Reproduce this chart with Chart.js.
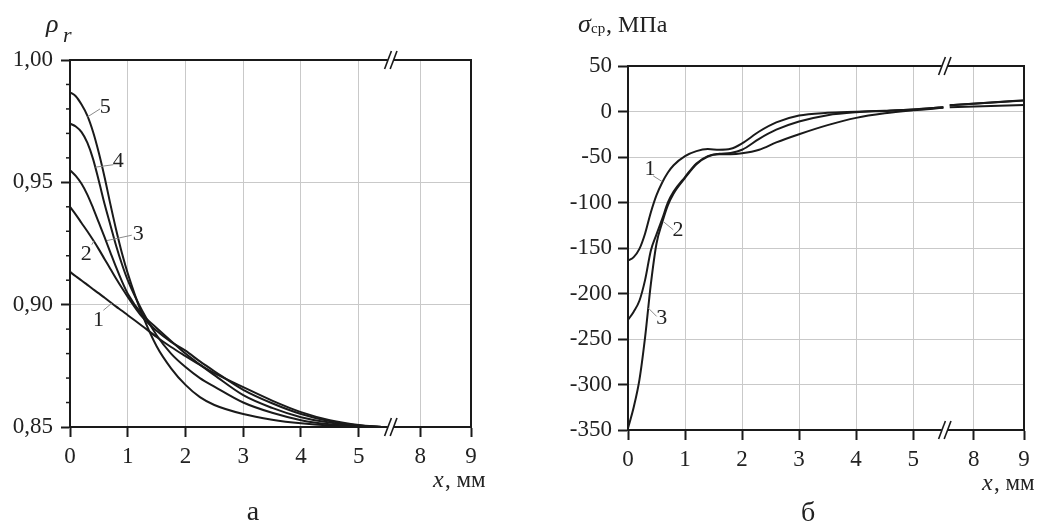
<!DOCTYPE html>
<html><head><meta charset="utf-8">
<script src="https://cdn.jsdelivr.net/npm/chart.js@4/dist/chart.umd.min.js"></script>
<style>
html,body{margin:0;padding:0;background:#fff;}
#wrap{position:relative;width:1050px;height:525px;background:#fff;}
.box{position:absolute;top:0;width:525px;height:525px;}
</style></head><body>
<div id="wrap">
<div class="box" style="left:0"><canvas id="cA" width="525" height="525"></canvas></div>
<div class="box" style="left:525px"><canvas id="cB" width="525" height="525"></canvas></div>
</div>
<script>
// ---------- data ----------
const xTickValues = [0, 1, 2, 3, 4, 5, 8, 9];
const xTickLabels = ['0', '1', '2', '3', '4', '5', '8', '9'];
const rhoTicks = [0.85, 0.90, 0.95, 1.00];
const rhoTickLabels = ['0,85', '0,90', '0,95', '1,00'];
const rhoMinorTicks = [0.86, 0.87, 0.88, 0.89, 0.91, 0.92, 0.93, 0.94, 0.96, 0.97, 0.98, 0.99];
const sigmaTicks = [-350, -300, -250, -200, -150, -100, -50, 0, 50];
const sigmaTickLabels = ['-350', '-300', '-250', '-200', '-150', '-100', '-50', '0', '50'];

const xRho = [0, 0.1, 0.2, 0.3, 0.4, 0.5, 0.6, 0.7, 0.8, 0.9, 1.0, 1.25, 1.5, 1.75, 2.0, 2.25, 2.5, 3.0, 3.5, 4.0, 4.5, 5.0, 5.4];
const rho1 = [0.9134, 0.9116, 0.9099, 0.9081, 0.9063, 0.9046, 0.9028, 0.9010, 0.8992, 0.8975, 0.8957, 0.8913, 0.8868, 0.8827, 0.8790, 0.8754, 0.8720, 0.8663, 0.8608, 0.8561, 0.8528, 0.8508, 0.8500];
const rho2 = [0.9400, 0.9368, 0.9334, 0.9300, 0.9264, 0.9226, 0.9186, 0.9146, 0.9106, 0.9068, 0.9032, 0.8950, 0.8893, 0.8848, 0.8812, 0.8768, 0.8728, 0.8652, 0.8597, 0.8553, 0.8524, 0.8506, 0.8500];
const rho3 = [0.9550, 0.9526, 0.9494, 0.9450, 0.9395, 0.9335, 0.9275, 0.9213, 0.9152, 0.9095, 0.9045, 0.8960, 0.8905, 0.8852, 0.8800, 0.8755, 0.8712, 0.8630, 0.8578, 0.8540, 0.8518, 0.8505, 0.8500];
const rho4 = [0.9740, 0.9728, 0.9705, 0.9662, 0.9595, 0.9505, 0.9410, 0.9325, 0.9240, 0.9165, 0.9100, 0.8975, 0.8875, 0.8800, 0.8745, 0.8700, 0.8665, 0.8600, 0.8558, 0.8528, 0.8511, 0.8503, 0.8500];
const rho5 = [0.9868, 0.9852, 0.9818, 0.9773, 0.9706, 0.9620, 0.9520, 0.9410, 0.9305, 0.9210, 0.9128, 0.8960, 0.8830, 0.8740, 0.8672, 0.8622, 0.8590, 0.8553, 0.8530, 0.8515, 0.8506, 0.8502, 0.8500];

const xSigma = [0, 0.1, 0.2, 0.3, 0.4, 0.5, 0.6, 0.7, 0.8, 1.0, 1.2, 1.4, 1.6, 1.8, 2.0, 2.3, 2.6, 3.0, 3.5, 4.0, 4.5, 5.0, 5.53];
const sigma1 = [-164, -160, -151, -134, -111, -92, -78, -67, -59, -49, -43.5, -41.3, -42, -41, -35, -22, -12, -4.5, -1.5, -0.3, 0.8, 2.2, 4.8];
const sigma2 = [-229, -220, -208, -185, -153, -135, -118, -100, -88, -72, -57, -49, -46.5, -45.5, -42, -30, -20, -11, -4, -0.8, 0.6, 2.2, 4.6];
const sigma3 = [-348, -325, -295, -248, -190, -145, -122, -103, -90, -73, -58, -49.5, -47, -47, -46, -42, -34, -25, -15, -7, -2, 1.3, 4.0];
const xSigmaTail = [7.52, 9];
const sigma1Tail = [7.0, 12.5];
const sigma2Tail = [6.8, 12.2];
const sigma3Tail = [4.6, 7.2];

// ---------- broken x axis ----------
const BREAK_AT = 5.555;
function brk(x) { return x <= BREAK_AT ? x : 6.064 + (x - 8) * 0.88; }

const FONT = '"Liberation Serif", "Times New Roman", serif';
const INK = '#1a1a1a';
const GRID = '#c9c9c9';

function pts(xs, ys) { return xs.map((x, i) => ({ x: brk(x), y: ys[i] })); }
function withTail(xs, ys, xt, yt) { return pts(xs, ys).concat([{ x: (brk(xs[xs.length - 1]) + brk(xt[0])) / 2, y: null }], pts(xt, yt)); }
function ds(data) { return { data, borderColor: INK, borderWidth: 2, pointRadius: 0, fill: false, cubicInterpolationMode: 'monotone', spanGaps: false }; }

const decor = {
  id: 'decor',
  afterDraw(chart, args, o) {
    const ctx = chart.ctx, a = chart.chartArea, xs = chart.scales.x, ys = chart.scales.y;
    ctx.save();
    (o.minor || []).forEach(v => {
      const y = ys.getPixelForValue(v);
      ctx.strokeStyle = INK; ctx.lineWidth = 1.5;
      ctx.beginPath(); ctx.moveTo(a.left - 4, y); ctx.lineTo(a.left, y); ctx.stroke();
    });
    ctx.strokeStyle = INK; ctx.lineWidth = 2;
    ctx.strokeRect(a.left, a.top, a.right - a.left, a.bottom - a.top);
    const bx = xs.getPixelForValue(BREAK_AT);
    [a.top, a.bottom].forEach(y => {
      ctx.fillStyle = '#fff'; ctx.fillRect(bx - 3, y - 2, 6, 4);
      ctx.strokeStyle = INK; ctx.lineWidth = 1.6;
      [-2.8, 2.8].forEach(dx => {
        ctx.beginPath(); ctx.moveTo(bx + dx - 3.4, y + 9); ctx.lineTo(bx + dx + 3.4, y - 9); ctx.stroke();
      });
    });
    (o.notes || []).forEach(n => {
      ctx.strokeStyle = '#8a8a8a'; ctx.lineWidth = 1;
      ctx.beginPath();
      ctx.moveTo(xs.getPixelForValue(n.l[0]), ys.getPixelForValue(n.l[1]));
      ctx.lineTo(xs.getPixelForValue(n.l[2]), ys.getPixelForValue(n.l[3]));
      ctx.stroke();
      ctx.fillStyle = '#222'; ctx.font = '22px ' + FONT; ctx.textAlign = 'center'; ctx.textBaseline = 'middle';
      ctx.fillText(n.t, xs.getPixelForValue(n.x), ys.getPixelForValue(n.y));
    });
    (o.texts || []).forEach(t => {
      ctx.fillStyle = '#222'; ctx.font = t.f; ctx.textAlign = t.a || 'left'; ctx.textBaseline = 'alphabetic';
      ctx.fillText(t.t, t.x, t.y);
    });
    ctx.restore();
  }
};

function makeOpts(cfg) {
  const tickFont = { family: FONT, size: 23 };
  return {
    responsive: false, animation: false,
    layout: { padding: cfg.pad },
    plugins: { legend: { display: false }, tooltip: { enabled: false }, decor: cfg.decor },
    scales: {
      x: {
        type: 'linear', min: 0, max: brk(9),
        afterFit: s => { s.height = cfg.xh; },
        afterBuildTicks: s => { s.ticks = xTickValues.map(v => ({ value: brk(v) })); },
        ticks: { autoSkip: false, maxRotation: 0, padding: 6, color: '#222', font: tickFont,
                 callback: (v, i) => xTickLabels[i] },
        grid: { color: c => (c.index > 0 && c.index < xTickValues.length - 1) ? GRID : 'rgba(0,0,0,0)',
                lineWidth: 1, tickLength: 10, tickColor: INK, tickWidth: 2 },
        border: { display: true, color: INK, width: 2 }
      },
      y: {
        type: 'linear', min: cfg.ymin, max: cfg.ymax,
        afterFit: s => { s.width = cfg.yw; },
        afterBuildTicks: s => { s.ticks = cfg.yt.map(v => ({ value: v })); },
        ticks: { autoSkip: false, padding: cfg.ypad, color: '#222', font: tickFont,
                 callback: (v, i) => cfg.yl[i] },
        grid: { color: c => (c.index > 0 && c.index < cfg.yt.length - 1) ? GRID : 'rgba(0,0,0,0)',
                lineWidth: 1, tickLength: cfg.ytl, tickColor: INK, tickWidth: 2 },
        border: { display: true, color: INK, width: 2 }
      }
    }
  };
}

new Chart(document.getElementById('cA'), {
  type: 'line',
  data: { datasets: [pts(xRho, rho1), pts(xRho, rho2), pts(xRho, rho3), pts(xRho, rho4), pts(xRho, rho5)].map(ds) },
  options: makeOpts({
    pad: { left: 0, top: 60, right: 54, bottom: 0 }, xh: 98, yw: 70, ypad: 8, ytl: 9,
    ymin: 0.85, ymax: 1.0, yt: rhoTicks, yl: rhoTickLabels,
    decor: {
      minor: rhoMinorTicks,
      notes: [
        { t: '5', x: 0.61, y: 0.9808, l: [0.30, 0.9767, 0.52, 0.9800] },
        { t: '4', x: 0.835, y: 0.9587, l: [0.44, 0.9562, 0.75, 0.9572] },
        { t: '3', x: 1.18, y: 0.9288, l: [0.64, 0.9262, 1.07, 0.9284] },
        { t: '2', x: 0.28, y: 0.9206, l: [0.377, 0.9245, 0.42, 0.9262] },
        { t: '1', x: 0.495, y: 0.8936, l: [0.578, 0.8977, 0.724, 0.9006] }
      ],
      texts: [
        { t: 'ρ', x: 46, y: 32, f: 'italic 26px ' + FONT },
        { t: 'r', x: 63, y: 42, f: 'italic 22px ' + FONT },
        { t: 'x', x: 433, y: 487, f: 'italic 24px ' + FONT },
        { t: ', мм', x: 445, y: 487, f: '23px ' + FONT },
        { t: 'а', x: 253, y: 520, f: '28px ' + FONT, a: 'center' }
      ]
    }
  }),
  plugins: [decor]
});

new Chart(document.getElementById('cB'), {
  type: 'line',
  data: { datasets: [
    withTail(xSigma, sigma1, xSigmaTail, sigma1Tail),
    withTail(xSigma, sigma2, xSigmaTail, sigma2Tail),
    withTail(xSigma, sigma3, xSigmaTail, sigma3Tail)
  ].map(ds) },
  options: makeOpts({
    pad: { left: 0, top: 66, right: 26, bottom: 0 }, xh: 95, yw: 103, ypad: 6, ytl: 10,
    ymin: -350, ymax: 50, yt: sigmaTicks, yl: sigmaTickLabels,
    decor: {
      notes: [
        { t: '1', x: 0.385, y: -63, l: [0.443, -70.8, 0.60, -77] },
        { t: '2', x: 0.876, y: -130, l: [0.62, -121, 0.794, -130] },
        { t: '3', x: 0.59, y: -226.7, l: [0.356, -216, 0.503, -225.2] }
      ],
      texts: [
        { t: 'σ', x: 53, y: 32, f: 'italic 26px ' + FONT },
        { t: 'ср', x: 66, y: 33, f: '15px ' + FONT },
        { t: ', МПа', x: 81, y: 32, f: '24px ' + FONT },
        { t: 'x', x: 457, y: 490, f: 'italic 24px ' + FONT },
        { t: ', мм', x: 469, y: 490, f: '23px ' + FONT },
        { t: 'б', x: 283, y: 521, f: '28px ' + FONT, a: 'center' }
      ]
    }
  }),
  plugins: [decor]
});
</script>
</body></html>
